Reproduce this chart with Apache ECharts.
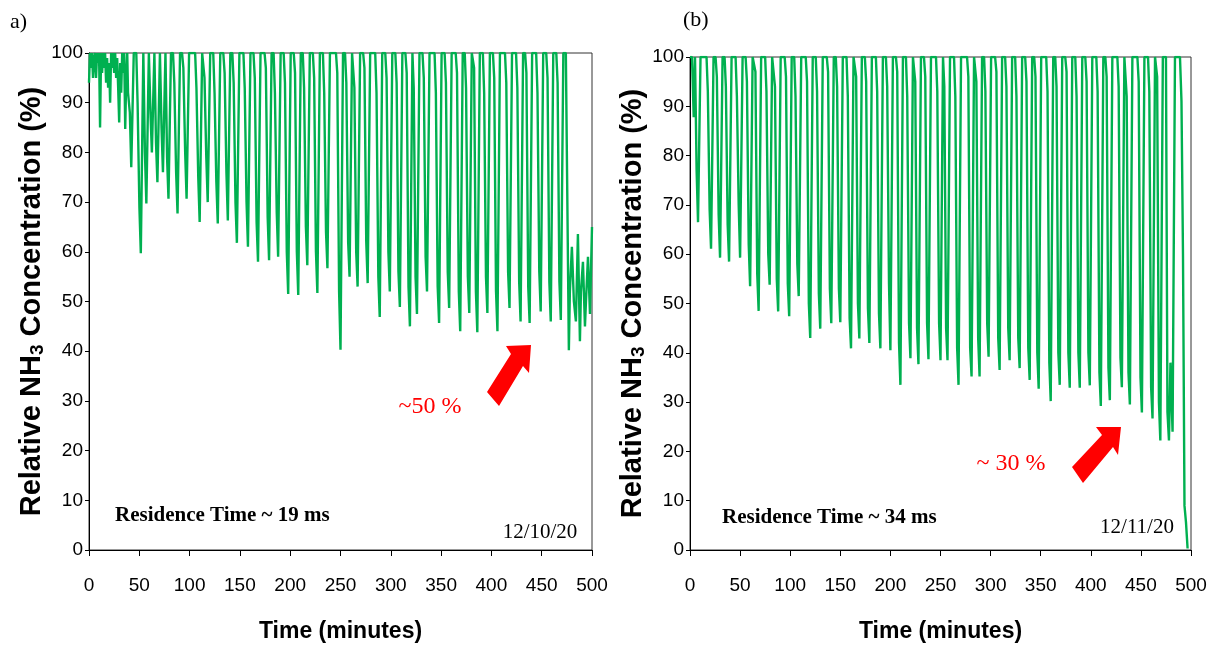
<!DOCTYPE html>
<html>
<head>
    <meta charset="utf-8">
    <title>Relative NH3 Concentration</title>
    <script src="https://cdn.jsdelivr.net/npm/echarts@6/dist/echarts.min.js"></script>
    <style>
        body { margin: 0; background: #fff; }
        #chart { width: 1212px; height: 648px; }
    </style>
</head>
<body>
<div id="chart"></div>
<script type="text/javascript">
    // tick labels
    var timeTicks = [0, 50, 100, 150, 200, 250, 300, 350, 400, 450, 500];
    var concTicks = [0, 10, 20, 30, 40, 50, 60, 70, 80, 90, 100];
    // saturated top of every cycle (%)
    var ceilingV = 100;

    // (a) 12/10/20 - noisy start, before the cycles begin
    var aHeadT = [0, 1, 2, 3, 4, 5, 6, 7, 8, 9, 10, 11, 12, 13, 14, 15, 16, 17, 18, 19,
                  20, 21, 22, 23, 24, 25, 26, 27, 28, 29, 30, 31, 32, 33, 34, 35, 36, 37, 38];
    var aHeadV = [94, 100, 97, 100, 95, 99, 100, 95, 100, 98, 100, 85, 100, 96, 100, 97, 100, 94, 99, 93,
                  98, 90, 100, 97, 100, 96, 100, 95, 99, 93, 86, 98, 92, 100, 96, 100, 84.7, 95, 100];
    // (a) each cycle: time of the minimum, minimum, knee on the way down, first step off the top
    var aDipT = [42, 51.5, 57, 62.5, 68, 73.5, 79, 88, 97, 110, 118, 128, 138, 147, 158, 168, 179, 188, 198, 208,
                 217, 227, 237, 250, 259, 267, 277, 289, 299, 309, 319, 326, 336, 348, 358, 369, 378, 386, 396, 406,
                 418, 429, 438, 449, 459, 469];
    var aDipV = [77, 59.7, 69.7, 80, 74, 76, 70.7, 67.7, 70.7, 66, 70, 65.7, 66.3, 61.8, 61, 58, 58.3, 59, 51.5, 51.3,
                 57.3, 51.7, 56.7, 40.3, 55, 53, 53.7, 46.9, 52, 48.9, 45, 47.5, 52, 45.7, 48.7, 44, 47.7, 43.8, 47.7, 44,
                 48.7, 46, 45.7, 48, 46, 46.3];
    var aKneeV = [88, 69, 80, 88, 82, 85, 79, 76, 80, 75, 79, 74, 76, 70, 70, 66, 67, 68, 60, 60,
                  65, 60, 64, 52, 62, 60, 62, 55, 60, 56, 53, 55, 59, 53, 56, 52, 55, 52, 55, 52,
                  56, 54, 53, 56, 54, 54];
    var aTopV = [92, 90, 94, 95, 93, 96, 92, 94, 97, 93, 95, 92, 96, 94, 93, 95, 97, 92, 94, 96,
                 93, 95, 92, 96, 94, 93, 97, 92, 95, 94, 96, 93, 95, 92, 94, 96, 93, 97, 92, 95,
                 94, 93, 96, 92, 95, 94];
    // (a) noisy end
    var aTailT = [474, 477, 478, 480, 482, 484, 486, 488, 489, 491, 493, 494, 496, 498, 500];
    var aTailV = [100, 40.2, 52, 61, 50, 46, 63.6, 42, 52, 58, 45, 50, 59, 47.5, 65];

    // (b) 12/11/20
    var bHeadT = [0, 2, 3.7, 5];
    var bHeadV = [100, 100, 87.8, 100];
    var bDipT = [8, 21, 30, 39, 50, 60, 68.5, 79.5, 88, 99, 108.5, 120, 130, 141, 150, 160.7, 169, 179, 190, 200,
                 210, 220, 228, 238, 250, 257, 268, 281, 289, 298, 309, 319, 329, 339, 348, 360, 369, 379, 389, 399,
                 410, 419, 431, 439, 451, 461.6, 469.4];
    var bDipV = [66.5, 61.1, 59.3, 58.5, 59.3, 53.5, 48.5, 53.8, 48.4, 47.4, 51.5, 43, 44.9, 46, 46.2, 40.9, 42.9, 42, 40.9, 40.5,
                 33.5, 38.9, 37.7, 38.7, 38.5, 38.5, 33.5, 35.2, 35.2, 39.2, 36.5, 38.5, 36.9, 34.5, 32.7, 30.2, 33.5, 32.9, 32.9, 33.4,
                 29.2, 30.4, 33, 29.5, 27.9, 26.7, 22.2];
    var bKneeV = [77, 69, 68, 66, 70, 62, 56, 60, 55, 54, 58, 50, 52, 53, 53, 47, 50, 49, 48, 54,
                  42, 46, 45, 46, 46, 45, 41, 41, 43, 46, 43, 45, 43, 41, 40, 38, 40, 40, 40, 40,
                  36, 37, 39, 36, 35, 33, 30];
    var bTopV = [95, 93, 96, 94, 92, 95, 97, 93, 94, 96, 92, 95, 93, 97, 94, 92, 96, 95, 93, 94,
                 97, 92, 95, 96, 93, 94, 92, 96, 95, 93, 97, 94, 92, 95, 96, 93, 94, 97, 92, 95,
                 93, 96, 94, 92, 95, 93, 96];
    var bTailT = [475, 476.5, 478, 479.5, 481.6, 484, 489, 490.5, 492, 493.5, 495, 496.6];
    var bTailV = [100, 28, 22.2, 38, 24, 100, 100, 91, 60, 9, 5.6, 0.3];

    var green = '#00b050';
    var sans = '"Liberation Sans", Arial, sans-serif';
    var serif = '"Liberation Serif", "DejaVu Serif", serif';

    // join head, cycles and tail into one [time, value] list
    function buildLine(headT, headV, dipT, dipV, kneeV, topV, tailT, tailV) {
        var pts = [];
        for (var i = 0; i < headT.length; i++) pts.push([headT[i], headV[i]]);
        var last = headT.length ? headT[headT.length - 1] : 0;
        for (var j = 0; j < dipT.length; j++) {
            var t = dipT[j];
            var start = Math.max(last, t - 4.5);
            pts.push([start, ceilingV]);
            if (start < t - 3.2) pts.push([t - 3.2, topV[j]]);
            pts.push([t - 1.4, kneeV[j]], [t, dipV[j]], [t + 2.5, ceilingV]);
            last = t + 2.5;
        }
        for (var k = 0; k < tailT.length; k++) pts.push([tailT[k], tailV[k]]);
        return pts;
    }

    function xAxisFor(idx) {
        return {
            type: 'value', gridIndex: idx,
            min: timeTicks[0], max: timeTicks[timeTicks.length - 1], interval: timeTicks[1] - timeTicks[0],
            name: 'Time (minutes)', nameLocation: 'middle', nameGap: 70,
            nameTextStyle: { fontFamily: sans, fontWeight: 'bold', fontSize: 23, color: '#000' },
            axisLine: { lineStyle: { color: '#000', width: 1 } },
            axisTick: { length: 6, lineStyle: { color: '#000' } },
            axisLabel: { fontFamily: sans, fontSize: 19, color: '#000', margin: 26 },
            splitLine: { show: false }
        };
    }

    function yAxisFor(idx) {
        return {
            type: 'value', gridIndex: idx,
            min: concTicks[0], max: concTicks[concTicks.length - 1], interval: concTicks[1] - concTicks[0],
            name: 'Relative NH{sub|3} Concentration (%)', nameLocation: 'middle', nameGap: 39,
            nameTextStyle: {
                fontFamily: sans, fontWeight: 'bold', fontSize: 29, color: '#000',
                rich: { sub: { fontFamily: sans, fontWeight: 'bold', fontSize: 19, color: '#000', padding: [11, 0, 0, 0] } }
            },
            axisLine: { lineStyle: { color: '#000', width: 1 } },
            axisTick: { length: 4, lineStyle: { color: '#000' } },
            axisLabel: { fontFamily: sans, fontSize: 19, color: '#000', margin: 6 },
            splitLine: { show: false }
        };
    }

    function note(text, x, y, size, weight, color, align) {
        return {
            type: 'text', x: x, y: y, silent: true,
            style: { text: text, fontFamily: serif, fontSize: size, fontWeight: weight || 'normal',
                     fill: color || '#000', align: align || 'left', verticalAlign: 'middle' }
        };
    }

    var myChart = echarts.init(document.getElementById('chart'));
    var option = {
        animation: false,
        backgroundColor: '#fff',
        grid: [
            { left: 89, top: 53, width: 503, height: 500, show: true, borderColor: '#333', borderWidth: 1 },
            { left: 690, top: 57, width: 501, height: 501, show: true, borderColor: '#333', borderWidth: 1 }
        ],
        xAxis: [xAxisFor(0), xAxisFor(1)],
        yAxis: [yAxisFor(0), yAxisFor(1)],
        series: [{
            type: 'line', xAxisIndex: 0, yAxisIndex: 0, showSymbol: false, silent: true,
            lineStyle: { color: green, width: 2.4 },
            data: buildLine(aHeadT, aHeadV, aDipT, aDipV, aKneeV, aTopV, aTailT, aTailV)
        }, {
            type: 'line', xAxisIndex: 1, yAxisIndex: 1, showSymbol: false, silent: true,
            lineStyle: { color: green, width: 2.4 },
            data: buildLine(bHeadT, bHeadV, bDipT, bDipV, bKneeV, bTopV, bTailT, bTailV)
        }],
        graphic: [
            note('a)', 10, 22, 22),
            note('(b)', 683, 20, 22),
            note('Residence Time ~ 19 ms', 115, 516, 21, 'bold'),
            note('12/10/20', 540, 532, 21, 'normal', '#000', 'center'),
            note('~50 %', 430, 407, 24, 'normal', '#ff0000', 'center'),
            note('Residence Time ~ 34 ms', 722, 518, 21, 'bold'),
            note('12/11/20', 1137, 527, 21, 'normal', '#000', 'center'),
            note('~ 30 %', 1011, 464, 24, 'normal', '#ff0000', 'center'),
            // red arrows
            { type: 'polygon', silent: true, style: { fill: '#ff0000' },
              shape: { points: [[531, 345], [506, 346], [511, 354], [487, 392], [499, 406], [523, 366], [529, 373]] } },
            { type: 'polygon', silent: true, style: { fill: '#ff0000' },
              shape: { points: [[1121, 427], [1096, 427], [1102, 435], [1072, 467], [1083, 483], [1113, 447], [1118, 455]] } }
        ]
    };
    myChart.setOption(option);
</script>
</body>
</html>
